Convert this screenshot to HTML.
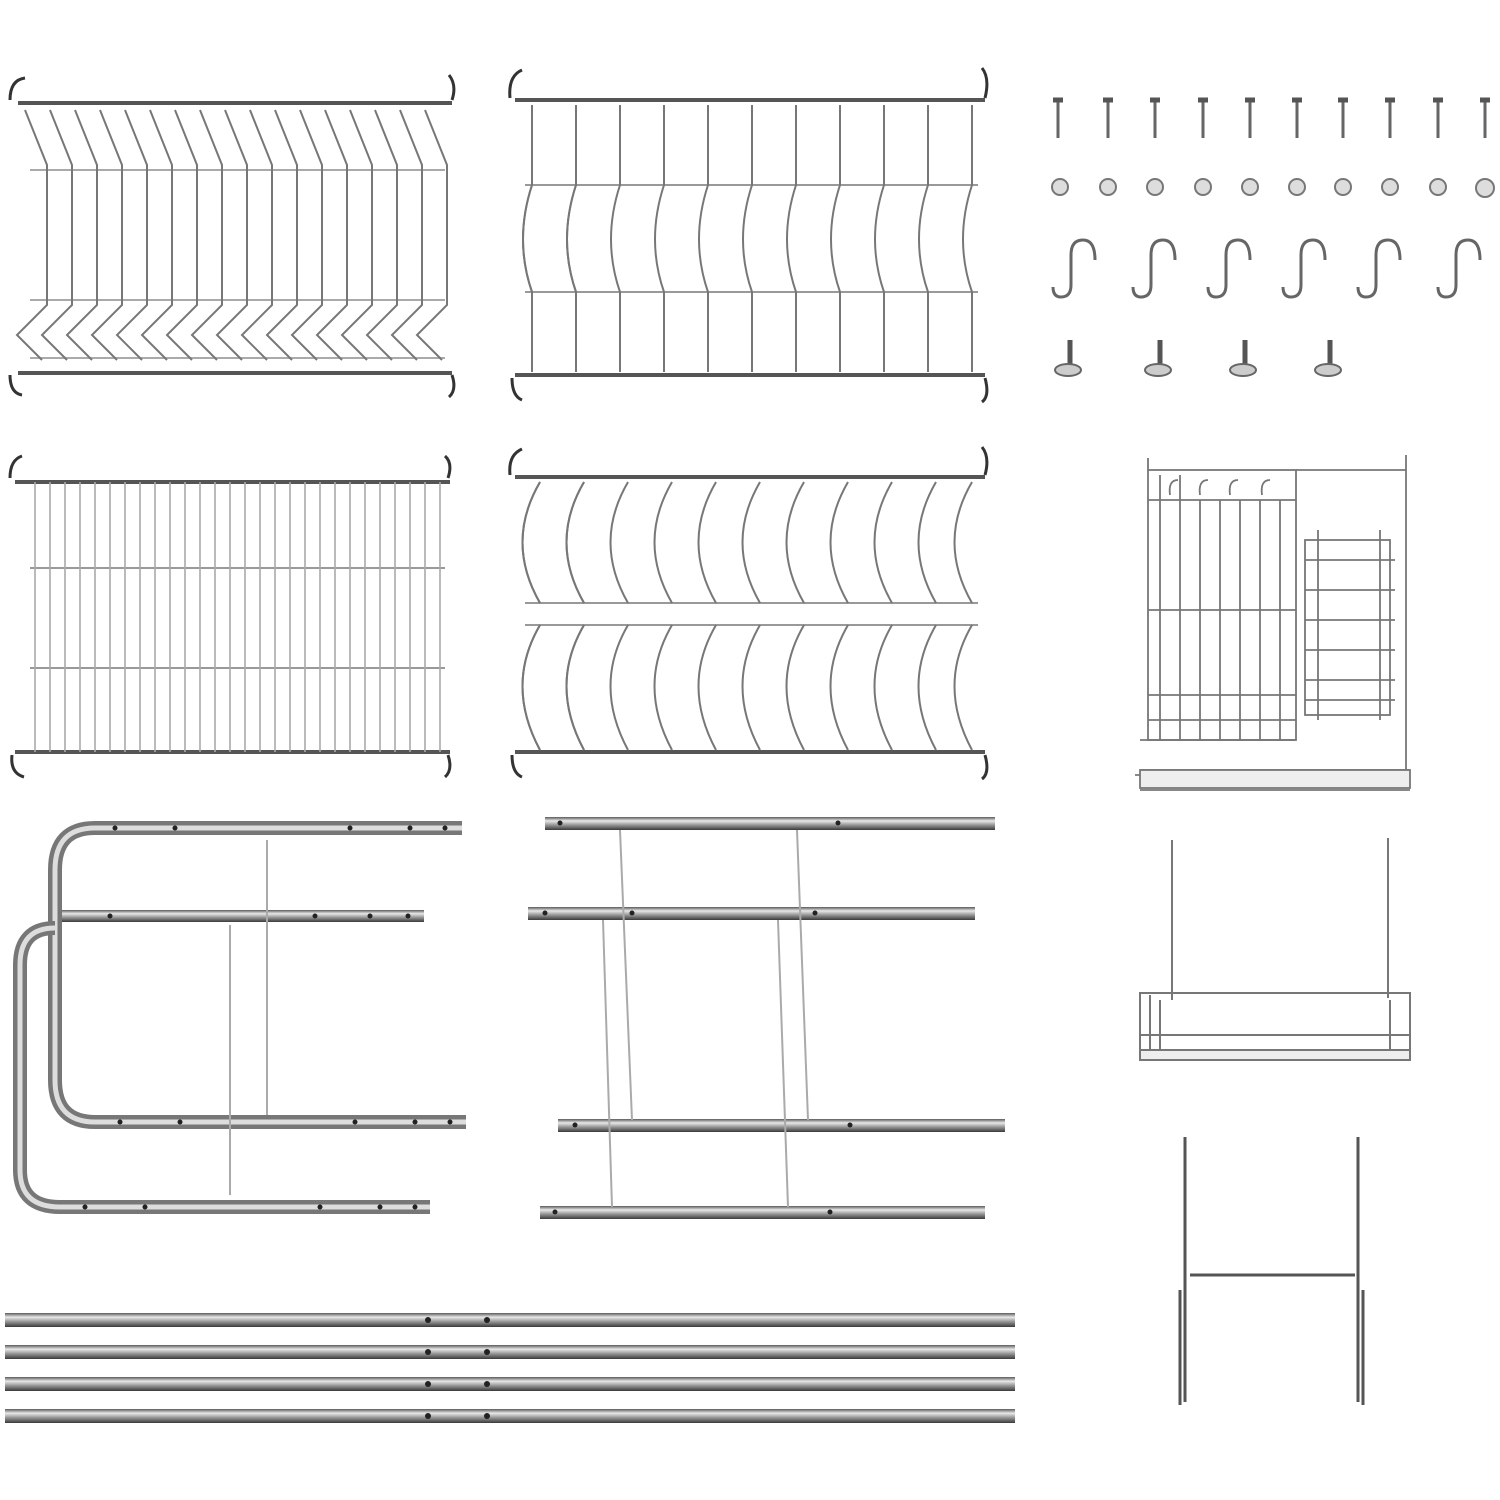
<!DOCTYPE html>
<html><head><meta charset="utf-8"><style>
html,body{margin:0;padding:0;background:#fff}
svg{display:block}
</style></head><body>
<svg width="1500" height="1500" viewBox="0 0 1500 1500" xmlns="http://www.w3.org/2000/svg">
<defs>
<linearGradient id="tube" x1="0" y1="0" x2="0" y2="1">
<stop offset="0" stop-color="#5a5a5a"/><stop offset="0.3" stop-color="#e8e8e8"/><stop offset="0.6" stop-color="#9a9a9a"/><stop offset="1" stop-color="#3a3a3a"/>
</linearGradient>
<linearGradient id="tubev" x1="0" y1="0" x2="1" y2="0">
<stop offset="0" stop-color="#5a5a5a"/><stop offset="0.3" stop-color="#e8e8e8"/><stop offset="0.6" stop-color="#9a9a9a"/><stop offset="1" stop-color="#3a3a3a"/>
</linearGradient>
</defs>
<g fill="none" stroke="#777" stroke-width="2">
<!-- Rack 1 top-left -->
<line x1="18" y1="103" x2="452" y2="103" stroke-width="4" stroke="#555"/>
<line x1="18" y1="373" x2="452" y2="373" stroke-width="4" stroke="#555"/>
<line x1="30" y1="170" x2="445" y2="170" stroke="#aaa"/>
<line x1="30" y1="300" x2="445" y2="300" stroke="#aaa"/>
<line x1="30" y1="358" x2="445" y2="358" stroke="#aaa"/>
<path d="M10 100 q0 -20 15 -22 M452 100 q5 -15 -3 -25 M10 375 q0 18 12 20 M452 375 q5 15 -3 22" stroke="#333" stroke-width="3"/>
<g id="w1">
<path d="M25 110 l22 55 v140 l-30 30 l25 25" />
</g>
<use href="#w1" x="25"/><use href="#w1" x="50"/><use href="#w1" x="75"/><use href="#w1" x="100"/><use href="#w1" x="125"/><use href="#w1" x="150"/><use href="#w1" x="175"/><use href="#w1" x="200"/><use href="#w1" x="225"/><use href="#w1" x="250"/><use href="#w1" x="275"/><use href="#w1" x="300"/><use href="#w1" x="325"/><use href="#w1" x="350"/><use href="#w1" x="375"/><use href="#w1" x="400"/>

<!-- Rack 2 top-middle -->
<line x1="515" y1="100" x2="985" y2="100" stroke-width="4" stroke="#555"/>
<line x1="515" y1="375" x2="985" y2="375" stroke-width="4" stroke="#555"/>
<line x1="525" y1="185" x2="978" y2="185" stroke="#999"/>
<line x1="525" y1="292" x2="978" y2="292" stroke="#999"/>
<path d="M510 98 q-2 -22 12 -28 M985 98 q5 -20 -3 -30 M512 378 q0 18 10 22 M985 378 q5 18 -3 24" stroke="#333" stroke-width="3"/>
<g id="w2"><path d="M532 105 v80 q-18 55 0 107 v80"/><path d="M576 105 v80 q-18 55 0 107 v80"/></g>
<use href="#w2" x="0"/><use href="#w2" x="88"/><use href="#w2" x="176"/><use href="#w2" x="264"/><use href="#w2" x="352"/>
<path d="M972 105 v80 q-18 55 0 107 v80"/>

<!-- Rack 3 middle-left -->
<line x1="15" y1="482" x2="450" y2="482" stroke-width="4" stroke="#555"/>
<line x1="15" y1="752" x2="450" y2="752" stroke-width="4" stroke="#555"/>
<line x1="30" y1="568" x2="445" y2="568" stroke="#999"/>
<line x1="30" y1="668" x2="445" y2="668" stroke="#999"/>
<path d="M10 478 q0 -18 12 -22 M448 478 q5 -15 -3 -22 M12 755 q-2 18 12 22 M448 755 q5 15 -3 22" stroke="#333" stroke-width="3"/>
<g stroke="#aaa" stroke-width="1.6">
<path d="M35 482V752M50 482V752M65 482V752M80 482V752M95 482V752M110 482V752M125 482V752M140 482V752M155 482V752M170 482V752M185 482V752M200 482V752M215 482V752M230 482V752M245 482V752M260 482V752M275 482V752M290 482V752M305 482V752M320 482V752M335 482V752M350 482V752M365 482V752M380 482V752M395 482V752M410 482V752M425 482V752M440 482V752"/>
</g>

<!-- Rack 4 middle-middle -->
<line x1="515" y1="477" x2="985" y2="477" stroke-width="4" stroke="#555"/>
<line x1="515" y1="752" x2="985" y2="752" stroke-width="4" stroke="#555"/>
<line x1="525" y1="603" x2="978" y2="603" stroke="#999"/>
<line x1="525" y1="625" x2="978" y2="625" stroke="#999"/>
<path d="M510 475 q-2 -20 12 -26 M985 475 q5 -18 -3 -28 M512 755 q0 18 10 22 M985 755 q5 18 -3 24" stroke="#333" stroke-width="3"/>
<g id="w4"><path d="M540 482 q-35 60 0 121 M540 625 q-35 60 0 125"/><path d="M584 482 q-35 60 0 121 M584 625 q-35 60 0 125"/></g>
<use href="#w4" x="0"/><use href="#w4" x="88"/><use href="#w4" x="176"/><use href="#w4" x="264"/><use href="#w4" x="352"/>
<path d="M972 482 q-35 60 0 121 M972 625 q-35 60 0 125"/>

<!-- screws -->
<g stroke="#666" stroke-width="3">
<path d="M1058 100v38M1108 100v38M1155 100v38M1203 100v38M1250 100v38M1297 100v38M1343 100v38M1390 100v38M1438 100v38M1485 100v38"/>
</g>
<g stroke="#555" stroke-width="5">
<path d="M1053 100h10M1103 100h10M1150 100h10M1198 100h10M1245 100h10M1292 100h10M1338 100h10M1385 100h10M1433 100h10M1480 100h10"/>
</g>
<g fill="#ddd" stroke="#777" stroke-width="2">
<circle cx="1060" cy="187" r="8"/><circle cx="1108" cy="187" r="8"/><circle cx="1155" cy="187" r="8"/><circle cx="1203" cy="187" r="8"/><circle cx="1250" cy="187" r="8"/><circle cx="1297" cy="187" r="8"/><circle cx="1343" cy="187" r="8"/><circle cx="1390" cy="187" r="8"/><circle cx="1438" cy="187" r="8"/><circle cx="1485" cy="188" r="9"/>
</g>
<g stroke="#666" stroke-width="3">
<g id="sh"><path d="M1095 260 q0 -20 -12 -20 q-12 0 -12 15 v30 q0 12 -10 12 q-8 0 -8 -10"/></g>
<use href="#sh" x="80"/><use href="#sh" x="155"/><use href="#sh" x="230"/><use href="#sh" x="305"/><use href="#sh" x="385"/>
</g>
<g>
<g id="ft"><path d="M1070 340v25" stroke="#555" stroke-width="5"/><ellipse cx="1068" cy="370" rx="13" ry="6" fill="#ccc" stroke="#666"/></g>
<use href="#ft" x="90"/><use href="#ft" x="175"/><use href="#ft" x="260"/>
</g>

<!-- utensil holder -->
<g stroke="#777" stroke-width="1.8">
<rect x="1148" y="470" width="148" height="270"/>
<path d="M1148 470 v-12 M1296 470 h110 v-15 M1406 460 v315 M1140 740 h155 M1140 770 h270 M1140 790 h270 M1135 775 h5"/>
<path d="M1160 475v265M1180 475v265M1200 500v240M1220 500v240M1240 500v240M1260 500v240M1280 500v240"/>
<path d="M1148 500h148M1148 610h148M1148 695h148M1148 720h148"/>
<path d="M1178 480q-10 0 -8 15M1208 480q-10 0 -8 15M1238 480q-10 0 -8 15M1270 480q-10 0 -8 15"/>
<rect x="1305" y="540" width="85" height="175"/>
<path d="M1318 530v190M1380 530v190M1305 560h90M1305 590h90M1305 620h90M1305 650h90M1305 680h90M1305 700h90"/>
<rect x="1140" y="770" width="270" height="18" fill="#eee"/>
</g>

<!-- hanging basket -->
<g stroke="#777" stroke-width="2">
<path d="M1172 840v160M1388 838v160"/>
<rect x="1140" y="993" width="270" height="60"/>
<path d="M1140 1035h270M1160 1000v55M1390 1000v55M1150 995v60"/>
<rect x="1140" y="1050" width="270" height="10" fill="#eee"/>
<path d="M1185 1137v265M1358 1137v265M1190 1275h165M1180 1290v115M1363 1290v115" stroke="#555" stroke-width="3"/>
</g>
</g>

<!-- bottom-left frames -->
<g fill="none" stroke="url(#tube)">
<path d="M462 828 H95 Q55 828 55 870 V1080 Q55 1122 95 1122 H466" stroke="#777" stroke-width="14"/>
<path d="M462 828 H95 Q55 828 55 870 V1080 Q55 1122 95 1122 H466" stroke="#ddd" stroke-width="5"/>
<path d="M430 1207 H60 Q20 1207 20 1170 V965 Q20 928 55 928" stroke="#777" stroke-width="14"/>
<path d="M430 1207 H60 Q20 1207 20 1170 V965 Q20 928 55 928" stroke="#ddd" stroke-width="5"/>
</g>
<rect x="62" y="910" width="362" height="12" fill="url(#tube)"/>
<g stroke="#aaa" stroke-width="2"><path d="M267 840v275M230 925v270"/></g>

<!-- bottom-middle tubes -->
<rect x="545" y="817" width="450" height="13" fill="url(#tube)"/>
<rect x="528" y="907" width="447" height="13" fill="url(#tube)"/>
<rect x="558" y="1119" width="447" height="13" fill="url(#tube)"/>
<rect x="540" y="1206" width="445" height="13" fill="url(#tube)"/>
<g stroke="#aaa" stroke-width="2"><path d="M620 830L632 1120M797 830L808 1120M603 920L612 1207M778 920L788 1207"/></g>

<!-- long tubes -->
<rect x="5" y="1313" width="1010" height="14" fill="url(#tube)"/>
<rect x="5" y="1345" width="1010" height="14" fill="url(#tube)"/>
<rect x="5" y="1377" width="1010" height="14" fill="url(#tube)"/>
<rect x="5" y="1409" width="1010" height="14" fill="url(#tube)"/>
<g fill="#222">
<circle cx="428" cy="1320" r="3"/><circle cx="428" cy="1352" r="3"/><circle cx="428" cy="1384" r="3"/><circle cx="428" cy="1416" r="3"/>
<circle cx="487" cy="1320" r="3"/><circle cx="487" cy="1352" r="3"/><circle cx="487" cy="1384" r="3"/><circle cx="487" cy="1416" r="3"/>
<circle cx="115" cy="828" r="2.5"/><circle cx="175" cy="828" r="2.5"/><circle cx="350" cy="828" r="2.5"/><circle cx="410" cy="828" r="2.5"/><circle cx="445" cy="828" r="2.5"/>
<circle cx="120" cy="1122" r="2.5"/><circle cx="180" cy="1122" r="2.5"/><circle cx="355" cy="1122" r="2.5"/><circle cx="415" cy="1122" r="2.5"/><circle cx="450" cy="1122" r="2.5"/>
<circle cx="85" cy="1207" r="2.5"/><circle cx="145" cy="1207" r="2.5"/><circle cx="320" cy="1207" r="2.5"/><circle cx="380" cy="1207" r="2.5"/><circle cx="415" cy="1207" r="2.5"/>
<circle cx="110" cy="916" r="2.5"/><circle cx="315" cy="916" r="2.5"/><circle cx="370" cy="916" r="2.5"/><circle cx="408" cy="916" r="2.5"/>
<circle cx="838" cy="823" r="2.5"/><circle cx="560" cy="823" r="2.5"/><circle cx="545" cy="913" r="2.5"/><circle cx="632" cy="913" r="2.5"/><circle cx="815" cy="913" r="2.5"/>
<circle cx="575" cy="1125" r="2.5"/><circle cx="850" cy="1125" r="2.5"/><circle cx="555" cy="1212" r="2.5"/><circle cx="830" cy="1212" r="2.5"/>
</g>
</svg>
</body></html>
